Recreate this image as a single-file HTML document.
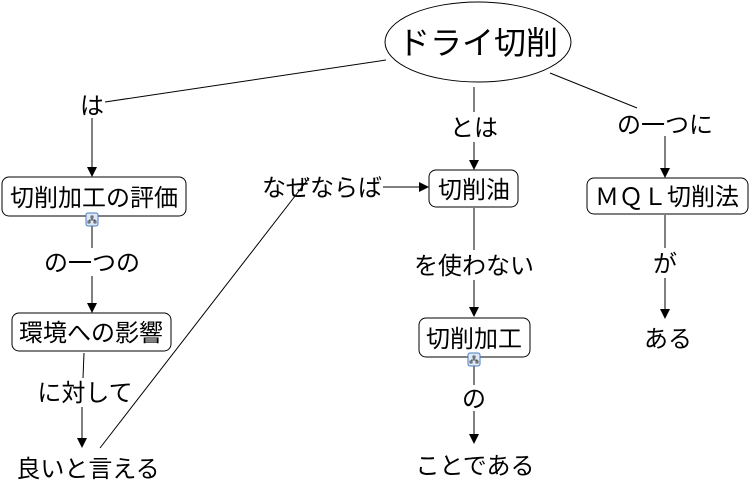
<!DOCTYPE html>
<html><head><meta charset="utf-8"><style>
html,body{margin:0;padding:0;background:#fff;}
svg text{font-family:"Liberation Sans","Noto Sans CJK JP",sans-serif;fill:#000;}
</style></head><body>
<svg width="750" height="492" viewBox="0 0 750 492" xmlns="http://www.w3.org/2000/svg">
<defs>
<marker id="a" markerWidth="10" markerHeight="10" refX="9" refY="5" orient="auto" markerUnits="userSpaceOnUse">
<path d="M0,0 L10,5 L0,10 z" fill="#000"/></marker>
<g id="ic"><rect x="-6" y="-7" width="12" height="13" rx="2" fill="#dde8f8" stroke="#4a7cc0" stroke-width="1"/>
<path d="M-1,-4h2v2h-2z M-4,1h2v2h-2z M2,1h2v2h-2z M0,-2v2 M-3,0h6v1" stroke="#333" stroke-width="0.8" fill="none"/></g>
</defs>
<g stroke="#000" stroke-width="1" fill="none">
<ellipse cx="478" cy="42" rx="93" ry="40" fill="#fff"/>
<line x1="386" y1="60" x2="105" y2="102"/>
<line x1="92" y1="118" x2="92" y2="176" marker-end="url(#a)"/>
<line x1="474" y1="87" x2="474" y2="112"/>
<line x1="474" y1="142" x2="474" y2="169" marker-end="url(#a)"/>
<line x1="550" y1="73" x2="637" y2="108"/>
<line x1="665" y1="136" x2="665" y2="177" marker-end="url(#a)"/>
<rect x="2" y="177" width="184" height="39" rx="7" fill="#fff"/>
<line x1="92" y1="226" x2="92" y2="248"/>
<line x1="92" y1="276" x2="92" y2="312" marker-end="url(#a)"/>
<rect x="12" y="313" width="159" height="38" rx="7" fill="#fff"/>
<line x1="84" y1="353" x2="83" y2="378"/>
<line x1="82" y1="407" x2="82" y2="447" marker-end="url(#a)"/>
<line x1="100" y1="448" x2="309" y2="178"/>
<line x1="383" y1="187" x2="428" y2="187" marker-end="url(#a)"/>
<rect x="429" y="170" width="89" height="37" rx="7" fill="#fff"/>
<line x1="474" y1="208" x2="474" y2="250"/>
<line x1="474" y1="280" x2="474" y2="316" marker-end="url(#a)"/>
<rect x="419" y="318" width="111" height="39" rx="7" fill="#fff"/>
<line x1="474" y1="366" x2="474" y2="385"/>
<line x1="474" y1="411" x2="474" y2="443" marker-end="url(#a)"/>
<rect x="587" y="178" width="161" height="36" rx="7" fill="#fff"/>
<line x1="665" y1="215" x2="665" y2="248"/>
<line x1="665" y1="278" x2="665" y2="318" marker-end="url(#a)"/>
</g>
<use href="#ic" x="92" y="220"/>
<use href="#ic" x="474" y="360"/>
<g text-anchor="middle" font-size="24">
<text x="478" y="54" font-size="32">ドライ切削</text>
<text x="92" y="114">は</text>
<text x="474" y="136">とは</text>
<text x="665" y="133">の一つに</text>
<text x="94" y="206">切削加工の評価</text>
<text x="92" y="271">の一つの</text>
<text x="91" y="341">環境への影響</text>
<text x="85" y="401">に対して</text>
<text x="88" y="477">良いと言える</text>
<text x="322" y="196">なぜならば</text>
<text x="474" y="198">切削油</text>
<text x="474" y="274">を使わない</text>
<text x="474" y="347">切削加工</text>
<text x="474" y="407">の</text>
<text x="475" y="474">ことである</text>
<text x="667" y="205">ＭＱＬ切削法</text>
<text x="665" y="272">が</text>
<text x="668" y="347">ある</text>
</g>
</svg>
</body></html>
